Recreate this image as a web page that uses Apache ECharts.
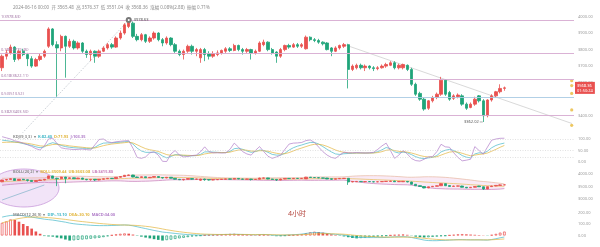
<!DOCTYPE html>
<html><head><meta charset="utf-8">
<script src="https://cdn.jsdelivr.net/npm/echarts@6/dist/echarts.min.js"></script>
<style>html,body{margin:0;padding:0;background:#fff}#c{width:600px;height:247px}</style>
</head><body><div id="c"></div>
<script>
// ---------- data ----------
// candles: [open, close, low, high]
const ohlc = [
[3690,3760,3670,3770],[3760,3780,3740,3800],[3780,3815,3770,3830],[3815,3740,3725,3820],[3745,3790,3735,3800],
[3790,3770,3760,3805],[3770,3745,3700,3780],[3745,3700,3690,3760],[3700,3740,3695,3750],[3740,3760,3730,3775],
[3760,3790,3750,3800],[3820,3925,3810,3935],[3925,3830,3820,3930],[3830,3810,3515,3850],[3810,3880,3790,3890],
[3880,3820,3630,3885],[3820,3850,3810,3865],[3850,3810,3800,3860],[3810,3840,3800,3850],[3840,3790,3780,3845],
[3790,3770,3750,3800],[3770,3790,3730,3800],[3790,3760,3720,3795],[3760,3790,3750,3800],[3790,3810,3785,3820],
[3810,3830,3800,3840],[3830,3815,3805,3840],[3815,3870,3810,3880],[3870,3900,3860,3915],[3900,3950,3890,3960],
[3940,3965,3930,3978.63],[3960,3880,3870,3970],[3880,3860,3850,3895],[3860,3890,3850,3900],[3890,3850,3840,3895],
[3850,3870,3840,3880],[3870,3900,3860,3910],[3900,3860,3850,3905],[3860,3840,3820,3870],[3840,3870,3830,3880],
[3870,3830,3820,3875],[3830,3790,3780,3840],[3790,3770,3760,3800],[3770,3790,3740,3800],[3790,3820,3780,3830],
[3820,3790,3770,3830],[3790,3800,3760,3810],[3750,3800,3720,3810],[3800,3770,3730,3810],[3775,3760,3740,3790],
[3760,3775,3750,3790],[3770,3780,3760,3795],[3780,3795,3770,3800],[3790,3805,3780,3815],[3805,3795,3785,3815],
[3795,3825,3790,3835],[3825,3800,3790,3830],[3800,3790,3770,3810],[3790,3800,3780,3810],[3800,3780,3740,3805],
[3780,3790,3770,3800],[3790,3840,3785,3850],[3830,3845,3820,3860],[3845,3800,3790,3850],[3800,3780,3770,3810],
[3785,3760,3720,3790],[3760,3800,3750,3810],[3800,3825,3790,3830],[3825,3815,3805,3835],[3815,3830,3810,3840],
[3830,3820,3810,3840],[3820,3830,3810,3840],[3805,3875,3800,3885],[3875,3860,3850,3880],[3860,3855,3845,3870],
[3855,3845,3835,3865],[3845,3835,3825,3850],[3840,3800,3795,3845],[3810,3790,3760,3815],[3790,3810,3785,3820],
[3810,3825,3800,3830],[3820,3830,3810,3840],[3830,3680,3565,3835],[3680,3700,3670,3710],[3690,3705,3680,3715],
[3705,3690,3680,3715],[3690,3700,3670,3710],[3700,3690,3680,3705],[3690,3685,3670,3700],[3685,3690,3675,3700],
[3690,3700,3685,3710],[3700,3710,3690,3720],[3705,3720,3700,3730],[3720,3690,3680,3730],[3690,3705,3680,3715],
[3690,3710,3680,3715],[3705,3680,3670,3710],[3680,3590,3580,3690],[3590,3530,3520,3600],[3535,3500,3490,3545],
[3500,3440,3430,3510],[3445,3490,3435,3495],[3490,3510,3480,3520],[3510,3530,3500,3540],[3530,3615,3520,3635],
[3615,3530,3520,3620],[3540,3500,3490,3550],[3505,3520,3495,3530],[3515,3525,3505,3535],[3520,3470,3460,3530],
[3470,3445,3435,3480],[3450,3470,3445,3480],[3470,3500,3460,3515],[3520,3490,3480,3525],[3490,3400,3362.02,3500],
[3400,3495,3390,3500],[3495,3520,3485,3530],[3520,3545,3510,3550],[3545,3565,3535,3590],[3565.48,3568.36,3551.04,3576.37]
];
const kLine = [95,93,90,87,84,80,76,72,66,62,66,78,84,79,72,67,64,62,61,60,59,58,64,75,82,83,83,85,86,88,
89,78,60,48,42,42,43,38,26,18,24,32,31,28,27,27,28,33,44,44,43,42,41,41,46,58,60,55,48,42,
45,52,50,42,33,30,30,38,52,62,69,74,80,85,85,78,67,55,44,35,33,36,37,38,39,39,39,39,40,45,
53,63,58,44,39,43,40,32,23,17,15,18,20,28,44,51,55,50,40,28,21,18,35,40,38,47,62,72,78,82.40];
const dLine = [85,86,86,86,85,83,81,78,74,70,69,72,76,77,75,73,70,68,66,64,62,61,61,66,71,75,78,80,82,84,
86,83,75,66,58,53,50,46,39,32,29,30,30,30,29,28,28,30,35,38,40,41,41,41,43,48,52,53,51,48,
47,49,49,47,42,38,35,36,41,48,55,61,67,73,77,77,74,68,60,52,46,42,40,39,39,39,39,39,39,41,
45,51,53,50,46,45,43,39,34,28,24,22,21,23,30,37,43,45,43,38,32,27,30,33,35,39,47,55,64,71.93];
const jLine = [110,105,100,92,88,82,75,68,58,52,70,100,104,80,62,58,56,54,55,56,54,52,75,98,100,88,84,88,90,92,
93,60,20,16,22,40,44,30,3,2,35,50,30,22,24,28,30,44,66,45,40,40,39,40,55,82,65,45,35,30,
50,67,45,25,16,22,30,55,78,82,83,85,93,96,85,65,45,30,20,16,30,43,40,40,41,40,39,40,42,55,
70,82,50,16,30,50,35,15,6,4,12,22,24,45,77,66,64,40,20,5,8,12,67,50,34,65,95,100,103,103.35];
const bollMid = [3690,3700,3710,3718,3726,3733,3740,3745,3750,3755,3760,3768,3774,3778,3784,3788,3792,3795,3798,3800,
3800,3801,3800,3801,3803,3805,3806,3808,3812,3818,3826,3830,3832,3836,3838,3842,3848,3852,3856,3860,
3862,3862,3860,3858,3856,3852,3848,3842,3836,3830,3824,3818,3814,3810,3806,3804,3802,3800,3798,3796,
3795,3795,3796,3796,3796,3795,3795,3796,3797,3798,3800,3802,3806,3809,3812,3815,3817,3818,3818,3819,
3820,3821,3815,3810,3804,3797,3790,3783,3776,3770,3763,3757,3750,3742,3735,3728,3720,3712,3702,3692,
3680,3670,3660,3650,3644,3635,3626,3617,3608,3597,3585,3573,3562,3552,3540,3533,3526,3520,3514,3509.44];
const bollUp = [3830,3832,3835,3838,3840,3842,3843,3845,3846,3848,3850,3880,3895,3900,3905,3908,3910,3910,3910,3908,
3905,3900,3896,3892,3890,3888,3886,3890,3900,3920,3945,3955,3960,3962,3964,3966,3968,3968,3966,3962,
3958,3955,3952,3948,3940,3930,3918,3905,3892,3880,3870,3860,3852,3846,3842,3840,3838,3836,3834,3833,
3832,3840,3845,3846,3846,3848,3848,3848,3848,3848,3850,3852,3865,3872,3878,3882,3884,3885,3885,3885,
3885,3886,3900,3912,3922,3928,3932,3934,3934,3932,3928,3922,3915,3906,3896,3885,3872,3870,3875,3880,
3888,3890,3888,3884,3876,3866,3852,3836,3818,3800,3780,3760,3738,3715,3700,3686,3668,3650,3630,3603.08];
const bollLow = [3550,3568,3585,3598,3612,3624,3637,3645,3654,3662,3670,3656,3653,3656,3663,3668,3674,3680,3686,3692,
3695,3702,3704,3710,3716,3722,3726,3726,3724,3716,3707,3705,3704,3710,3712,3718,3728,3736,3746,3758,
3766,3769,3768,3768,3772,3774,3778,3779,3780,3780,3778,3776,3776,3774,3770,3768,3766,3764,3762,3759,
3758,3750,3747,3746,3746,3742,3742,3744,3746,3748,3750,3752,3747,3746,3746,3748,3750,3751,3751,3753,
3755,3756,3730,3708,3686,3666,3648,3632,3618,3608,3598,3592,3585,3578,3574,3571,3568,3554,3529,3504,
3472,3450,3432,3416,3412,3404,3400,3398,3398,3394,3390,3386,3386,3389,3380,3380,3384,3390,3398,3415.80];
const macdHist = [110,122,140,135,120,100,82,60,35,15,-5,-8,-10,-18,-25,-35,-44,-42,-38,-35,
-32,-28,-24,-20,-14,-6,3,10,15,18,16,8,-3,-10,-18,-25,-32,-38,-44,-40,
-36,-30,-25,-20,-14,-8,-4,-2,3,5,6,8,10,12,14,15,13,11,8,5,
3,6,8,5,-3,-6,-4,-2,2,5,8,12,20,28,33,30,25,18,10,4,
-3,-8,-15,-22,-25,-22,-19,-16,-12,-9,-6,-3,2,5,7,9,6,-2,-10,-14,
-17,-15,-12,-9,-5,-3,2,6,10,12,10,8,6,4,2,-2,5,14,25,34];
const difLine = [160,168,174,177,176,172,166,160,154,148,142,138,134,128,122,116,108,102,98,95,
92,89,87,86,86,86,87,88,90,92,90,84,76,68,60,52,44,37,30,26,
22,18,14,11,8,6,5,4,5,5,6,7,8,9,10,11,10,9,8,7,
6,8,9,7,4,2,2,3,5,7,9,12,18,23,26,25,22,18,13,10,
7,4,-4,-12,-16,-17,-18,-18,-18,-18,-18,-17,-14,-12,-11,-10,-12,-17,-25,-32,
-40,-44,-45,-45,-43,-42,-40,-38,-36,-36,-37,-38,-38,-38,-39,-40,-35,-28,-20,-13.10];
const deaLine = [110,120,130,140,148,154,158,160,161,160,158,155,152,148,144,140,135,130,125,121,
117,113,109,105,102,99,96,94,92,91,90,89,87,84,80,76,70,64,57,50,
44,38,33,28,24,20,17,14,12,11,10,9,9,9,9,9,9,9,9,8,
8,8,8,8,7,6,5,5,5,5,6,7,9,11,13,15,16,16,15,14,
13,11,8,4,0,-3,-6,-8,-10,-12,-13,-14,-14,-14,-14,-14,-14,-15,-17,-20,
-24,-28,-31,-34,-36,-38,-38,-38,-38,-38,-38,-38,-38,-38,-38,-38,-37,-35,-33,-30.10];
// Fibonacci retracement levels (drawing)
const fibRatios = ['1','0.786','0.618','0.5','0.382'];
const fibPrices = [3978.63, 3779.46, 3622.11, 3513.52, 3403.50];
// drawn trend lines [index, price]
const fibTrend = [[0,3165],[30,3978.63]];
const downTrend = [[81,3831],[135,3353]];
const bollDrawLine = [[0,2960],[10,3560]];
// alert dots on the right edge
const alertPrices = [3612, 3582, 3535, 3435, 3342];
const yTicksMain = [3400, 3600, 3700, 3800, 3900, 4000];
const countdown = '01:50:24';
const padCount = 16;

// ---------- categories ----------
const categories = [];
{
  const t0 = Date.UTC(2024, 4, 27, 4);
  const p = n => String(n).padStart(2, '0');
  for (let i = 0; i < ohlc.length; i++) {
    const d = new Date(t0 + i * 4 * 3600e3);
    categories.push(d.getUTCFullYear() + '-' + p(d.getUTCMonth() + 1) + '-' + p(d.getUTCDate()) + ' ' + p(d.getUTCHours()) + ':00');
  }
}
const xCats = categories.concat(new Array(padCount).fill(''));

// ---------- styles ----------
const UP = '#e9504f', DOWN = '#1fa47a';
const FF = '"Noto Sans","Noto Sans CJK SC",sans-serif';
const AX = '#9b9b9b';
const KC = '#45b8c9', DC = '#e2b53c', JC = '#b07cc8';
const FIBC = '#d6a9d0', FIB5 = '#a9cbe3', FIBT = '#a57aa8';

const last = ohlc[ohlc.length - 1];
const chg = last[1] - last[0];
const header = categories[categories.length - 1] + '  开 ' + last[0].toFixed(2) + '  高 ' + last[3].toFixed(2) +
  '  低 ' + last[2].toFixed(2) + '  收 ' + last[1].toFixed(2) + '  涨幅 ' + (chg / last[0] * 100).toFixed(2) + '%(' + chg.toFixed(2) + ')' +
  '  振幅 ' + ((last[3] - last[2]) / last[0] * 100).toFixed(2) + '%';
const lastOf = a => a[a.length - 1].toFixed(2);

const macdData = macdHist.map((v, i) => {
  const col = v >= 0 ? UP : DOWN;
  const rising = i === 0 ? true : v > macdHist[i - 1];
  return { value: v, itemStyle: rising ? { color: '#fff', borderColor: col, borderWidth: 0.7 } : { color: col } };
});
const bandDiff = bollUp.map((u, i) => u - bollLow[i]);

const fibMarks = fibPrices.map((p, i) => ({
  yAxis: p,
  lineStyle: { color: fibRatios[i] === '0.5' ? FIB5 : FIBC, width: 0.9, type: 'solid' },
  label: { show: true, position: 'insideStartTop', distance: 1, formatter: fibRatios[i] + '(' + p.toFixed(2) + ')', color: FIBT, fontSize: 4, fontFamily: FF }
}));
fibMarks.push({
  yAxis: last[1],
  lineStyle: { width: 0, color: UP },
  label: { show: true, position: 'end', distance: 1, formatter: last[1].toFixed(2) + '\n' + countdown, color: '#fff',
    backgroundColor: UP, fontSize: 4, lineHeight: 5, padding: [1, 2, 1, 2], fontFamily: FF }
});

const yAxisBase = (grid, min, max, interval, show) => ({
  type: 'value', gridIndex: grid, position: 'right', min, max, interval,
  axisLine: { show: false }, axisTick: { show: false }, splitLine: { show: false },
  axisLabel: { color: AX, fontSize: 4, margin: 4, fontFamily: FF, formatter: v => show.indexOf(v) >= 0 ? v.toFixed(2) : '' }
});
const xAxisBase = grid => ({
  type: 'category', gridIndex: grid, data: xCats, boundaryGap: true,
  axisLine: { show: false }, axisTick: { show: false }, axisLabel: { show: false }, splitLine: { show: false }
});

const candleStyle = { color: UP, color0: DOWN, borderColor: UP, borderColor0: DOWN, borderWidth: 0.8 };

const option = {
  animation: false,
  backgroundColor: '#fff',
  textStyle: { fontFamily: FF },
  title: [
    { left: 8, top: 0.5, text: header, textStyle: { fontSize: 4.5, color: '#8c8c8c', fontWeight: 'normal', fontFamily: FF } },
    { left: 8, top: 129.5, text: '{n|KDJ(9,3,3)}  {n|▾}  {k|K:' + lastOf(kLine) + '}  {d|D:' + lastOf(dLine) + '}  {j|J:' + lastOf(jLine) + '}',
      textStyle: { fontSize: 4, fontFamily: FF, rich: { n: { fontSize: 4, color: '#8c8c8c' }, k: { fontSize: 4, color: KC }, d: { fontSize: 4, color: DC }, j: { fontSize: 4, color: JC } } } },
    { left: 8, top: 164.5, text: '{n|BOLL(20,2)}  {n|▾}  {m|BOLL:' + lastOf(bollMid) + '}  {u|UB:' + lastOf(bollUp) + '}  {l|LB:' + lastOf(bollLow) + '}',
      textStyle: { fontSize: 4, fontFamily: FF, rich: { n: { fontSize: 4, color: '#8c8c8c' }, m: { fontSize: 4, color: DC }, u: { fontSize: 4, color: DC }, l: { fontSize: 4, color: '#c77bb8' } } } },
    { left: 8, top: 207.5, text: '{n|MACD(12,26,9)}  {n|▾}  {a|DIF:' + lastOf(difLine) + '}  {b|DEA:' + lastOf(deaLine) + '}  {c|MACD:' + lastOf(macdHist) + '}',
      textStyle: { fontSize: 4, fontFamily: FF, rich: { n: { fontSize: 4, color: '#8c8c8c' }, a: { fontSize: 4, color: KC }, b: { fontSize: 4, color: DC }, c: { fontSize: 4, color: JC } } } },
    { left: 283, top: 205.5, text: '4小时', textStyle: { fontSize: 7, color: '#b5473f', fontWeight: 'normal', fontFamily: FF } }
  ],
  graphic: [
    { type: 'ellipse', shape: { cx: 24, cy: 188, rx: 35, ry: 19 }, style: { fill: 'rgba(215,170,232,0.32)', stroke: '#c99bda', lineWidth: 0.8 }, z: 0 }
  ],
  grid: [
    { left: 0, right: 26, top: -5.17, height: 137.4 },
    { left: 0, right: 26, top: 127.5, height: 46 },
    { left: 0, right: 26, top: 161.5, height: 50 },
    { left: 0, right: 26, top: 201, height: 48 }
  ],
  xAxis: [xAxisBase(0), xAxisBase(1), xAxisBase(2), xAxisBase(3),
    { type: 'value', gridIndex: 0, min: 0, max: 1, show: false }],
  yAxis: [
    yAxisBase(0, 3300, 4100, 100, yTicksMain),
    yAxisBase(1, -50, 150, 50, [0, 50, 100]),
    yAxisBase(2, 2500, 4500, 500, [3000, 3500, 4000]),
    yAxisBase(3, -100, 300, 100, [0, 100, 200])
  ],
  series: [
    { type: 'candlestick', xAxisIndex: 0, yAxisIndex: 0, data: ohlc, barWidth: '68%', itemStyle: candleStyle, z: 3,
      markLine: { silent: true, symbol: 'none', animation: false, data: fibMarks },
      markPoint: { silent: true, data: [
        { type: 'max', valueDim: 'highest', symbol: 'emptyCircle', symbolSize: 4, itemStyle: { color: '#777', borderColor: '#777', borderWidth: 0.6 },
          label: { show: true, position: 'right', distance: 2, color: '#555', fontSize: 4, formatter: p => (+p.value).toFixed(2) } },
        { type: 'min', valueDim: 'lowest', symbol: 'rect', symbolSize: [3, 0.6], symbolOffset: [-2, 0], itemStyle: { color: '#777' },
          label: { show: true, position: 'left', distance: 1, color: '#555', fontSize: 4, formatter: p => (+p.value).toFixed(2) } }
      ] } },
    { type: 'line', xAxisIndex: 0, yAxisIndex: 0, data: fibTrend, symbol: 'none', silent: true,
      lineStyle: { color: '#a9b3bd', width: 0.8, type: [1, 1.5] }, z: 2 },
    { type: 'line', xAxisIndex: 0, yAxisIndex: 0, data: downTrend, symbol: 'none', silent: true,
      lineStyle: { color: '#c9c9c9', width: 0.7 }, z: 2 },
    { type: 'scatter', xAxisIndex: 4, yAxisIndex: 0, data: alertPrices.map(p => [0.996, p]), symbolSize: 3.2,
      itemStyle: { color: '#e8b93a' }, silent: true, z: 4 },
    // KDJ
    { type: 'line', xAxisIndex: 1, yAxisIndex: 1, data: kLine, symbol: 'none', lineStyle: { color: KC, width: 0.7 },
      markLine: { silent: true, symbol: 'none', label: { show: false },
        lineStyle: { color: '#cfcfcf', width: 0.6, type: [1, 1.5] }, data: [{ yAxis: 100 }, { yAxis: 50 }, { yAxis: 20 }] } },
    { type: 'line', xAxisIndex: 1, yAxisIndex: 1, data: dLine, symbol: 'none', lineStyle: { color: DC, width: 0.7 } },
    { type: 'line', xAxisIndex: 1, yAxisIndex: 1, data: jLine, symbol: 'none', lineStyle: { color: JC, width: 0.7 } },
    // BOLL
    { type: 'line', xAxisIndex: 2, yAxisIndex: 2, data: bollLow, stack: 'band', symbol: 'none', lineStyle: { width: 0 }, silent: true },
    { type: 'line', xAxisIndex: 2, yAxisIndex: 2, data: bandDiff, stack: 'band', symbol: 'none', lineStyle: { width: 0 },
      areaStyle: { color: 'rgba(236,190,228,0.45)' }, silent: true, z: 1 },
    { type: 'line', xAxisIndex: 2, yAxisIndex: 2, data: bollUp, symbol: 'none', lineStyle: { color: '#e6b8a0', width: 0.7 } },
    { type: 'line', xAxisIndex: 2, yAxisIndex: 2, data: bollMid, symbol: 'none', lineStyle: { color: DC, width: 0.6 } },
    { type: 'line', xAxisIndex: 2, yAxisIndex: 2, data: bollLow, symbol: 'none', lineStyle: { color: '#c77bb8', width: 0.7 } },
    { type: 'candlestick', xAxisIndex: 2, yAxisIndex: 2, data: ohlc, barWidth: '68%', itemStyle: candleStyle, z: 3 },
    { type: 'line', xAxisIndex: 2, yAxisIndex: 2, data: bollDrawLine, symbol: 'none', lineStyle: { color: '#7fb3c8', width: 0.7 }, z: 4 },
    // MACD
    { type: 'bar', xAxisIndex: 3, yAxisIndex: 3, data: macdData, barWidth: '62%' },
    { type: 'line', xAxisIndex: 3, yAxisIndex: 3, data: difLine, symbol: 'none', lineStyle: { color: KC, width: 0.7 } },
    { type: 'line', xAxisIndex: 3, yAxisIndex: 3, data: deaLine, symbol: 'none', lineStyle: { color: DC, width: 0.7 } }
  ]
};
const chart = echarts.init(document.getElementById('c'), null, { renderer: 'canvas' });
chart.setOption(option);
</script>
</body></html>
